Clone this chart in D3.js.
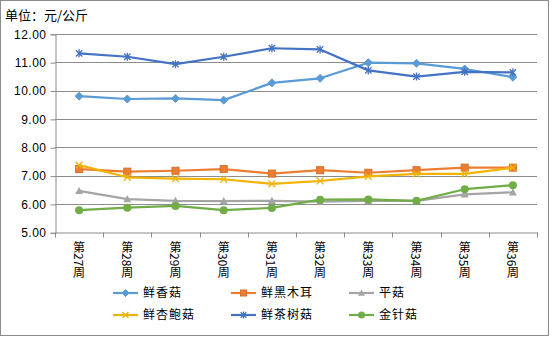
<!DOCTYPE html>
<html><head><meta charset="utf-8">
<script src="https://cdn.jsdelivr.net/npm/d3@7"></script>
<style>
html,body{margin:0;padding:0;background:#fff;}
svg{display:block;font-family:"Noto Sans CJK SC","Noto Sans",sans-serif;}
.vlab{writing-mode:vertical-rl;text-orientation:mixed;}
</style></head>
<body><svg id="c" width="555" height="337"></svg>
<script>
const categories = ["第27周","第28周","第29周","第30周","第31周","第32周","第33周","第34周","第35周","第36周"];
const seriesNames = ["鲜香菇","鲜黑木耳","平菇","鲜杏鲍菇","鲜茶树菇","金针菇"];
const xianxianggu = [9.80,9.70,9.72,9.66,10.27,10.43,10.98,10.96,10.76,10.47];
const heimuer     = [7.23,7.14,7.17,7.23,7.07,7.19,7.10,7.19,7.28,7.28];
const pinggu      = [6.46,6.17,6.11,6.10,6.11,6.08,6.11,6.11,6.34,6.41];
const xingbaogu   = [7.37,6.94,6.89,6.87,6.71,6.81,6.97,7.06,7.06,7.28];
const chashugu    = [11.31,11.19,10.93,11.19,11.49,11.45,10.71,10.49,10.66,10.64];
const jinzhengu   = [5.78,5.87,5.93,5.78,5.86,6.15,6.16,6.11,6.52,6.66];
const yTicks = [5,6,7,8,9,10,11,12];
const colors = ["#5B9BD5","#ED7D31","#A5A5A5","#F2B200","#4472C4","#70AD47"];
const markers = ["diamond","square","triangle","x","asterisk","circle"];
const allValues = [xianxianggu,heimuer,pinggu,xingbaogu,chashugu,jinzhengu];

const svg = d3.select("#c");
svg.append("rect").attr("x",0.5).attr("y",0.5).attr("width",548).attr("height",335)
  .attr("fill","#fff").attr("stroke","#8c8c8c").attr("stroke-width",1);

svg.append("text").attr("x",5).attr("y",20).attr("font-size",13).attr("fill","#000")
  .text("单位：元/公斤");

const L=55, R=537, T=33.8, B=232.3;
const x = d3.scaleBand().domain(categories).range([L,R]);
const y = d3.scaleLinear().domain([5,12]).range([B,T]);

svg.append("g").selectAll("line").data(yTicks.filter(d=>d>5)).join("line")
  .attr("x1",L).attr("x2",R).attr("y1",d=>Math.round(y(d))+0.5).attr("y2",d=>Math.round(y(d))+0.5)
  .attr("stroke","#8c8c8c").attr("stroke-width",1);

const yAxis = svg.append("g").attr("transform",`translate(${L+0.5},0.5)`)
  .call(d3.axisLeft(y).tickValues(yTicks).tickSize(5).tickPadding(4).tickFormat(d3.format(".2f")));
yAxis.select(".domain").attr("stroke","#8c8c8c");
yAxis.selectAll(".tick line").attr("stroke","#8c8c8c");
yAxis.selectAll("text").attr("font-size",12).attr("fill","#000").attr("letter-spacing",0.5);

const xAxis = svg.append("g").attr("transform",`translate(0.5,${Math.round(B)+0.5})`)
  .call(d3.axisBottom(x).tickSize(0).tickFormat(""));
xAxis.select(".domain").attr("stroke","#8c8c8c");
xAxis.selectAll(".tick").remove();
const bounds = categories.map(c=>x(c)).concat([R]);
svg.append("g").selectAll("line").data(bounds).join("line")
  .attr("x1",d=>Math.round(d)+0.5).attr("x2",d=>Math.round(d)+0.5)
  .attr("y1",Math.round(B)+0.5).attr("y2",Math.round(B)+5.5).attr("stroke","#8c8c8c");
svg.append("g").selectAll("text").data(categories).join("text")
  .attr("class","vlab")
  .attr("x",d=>x(d)+x.bandwidth()/2).attr("y",241)
  .attr("font-size",12).attr("fill","#000").text(d=>d);

function drawMarker(g, type, color, size){
  const s=size;
  if(type==="diamond"){
    g.append("path").attr("d",`M0,${-s}L${s},0L0,${s}L${-s},0Z`).attr("fill",color).attr("stroke",color);
  } else if(type==="square"){
    g.append("rect").attr("x",-s+0.5).attr("y",-s+0.5).attr("width",2*s-1).attr("height",2*s-1).attr("fill",color).attr("stroke",d3.color(color).darker(0.3)).attr("stroke-width",1);
  } else if(type==="triangle"){
    g.append("path").attr("d",`M0,${-s}L${s},${s*0.8}L${-s},${s*0.8}Z`).attr("fill",color);
  } else if(type==="x"){
    const a=s*0.85;
    g.append("path").attr("d",`M${-a},${-a}L${a},${a}M${-a},${a}L${a},${-a}`).attr("stroke",color).attr("stroke-width",1.3).attr("fill","none");
  } else if(type==="asterisk"){
    const a=s*0.8;
    g.append("path").attr("d",`M${-a},${-a}L${a},${a}M${-a},${a}L${a},${-a}M0,${-s}L0,${s}`).attr("stroke",color).attr("stroke-width",1.3).attr("fill","none");
  } else if(type==="circle"){
    g.append("circle").attr("r",s).attr("fill",color);
  }
}

const line = d3.line().x((d,i)=>x(categories[i])+x.bandwidth()/2).y(d=>y(d));
const order=[2,5,1,3,0,4];
order.forEach(si=>{
  const vals = allValues[si];
  svg.append("path").attr("d",line(vals)).attr("fill","none")
    .attr("stroke",colors[si]).attr("stroke-width",2.2).attr("stroke-linejoin","round");
  vals.forEach((v,i)=>{
    const g=svg.append("g").attr("transform",`translate(${x(categories[i])+x.bandwidth()/2},${y(v)})`);
    drawMarker(g, markers[si], colors[si], 4);
  });
});

const legX=[113,231,349], legY=[293,315];
seriesNames.forEach((n,i)=>{
  const lx=legX[i%3], ly=legY[Math.floor(i/3)];
  const g=svg.append("g");
  g.append("line").attr("x1",lx).attr("x2",lx+25).attr("y1",ly).attr("y2",ly)
    .attr("stroke",colors[i]).attr("stroke-width",2.2);
  const mg=g.append("g").attr("transform",`translate(${lx+12.5},${ly})`);
  drawMarker(mg, markers[i], colors[i], 3.5);
  g.append("text").attr("x",lx+30).attr("y",ly).attr("dy","0.35em")
    .attr("font-size",12).attr("letter-spacing",1).attr("fill","#000").text(n);
});
</script></body></html>
